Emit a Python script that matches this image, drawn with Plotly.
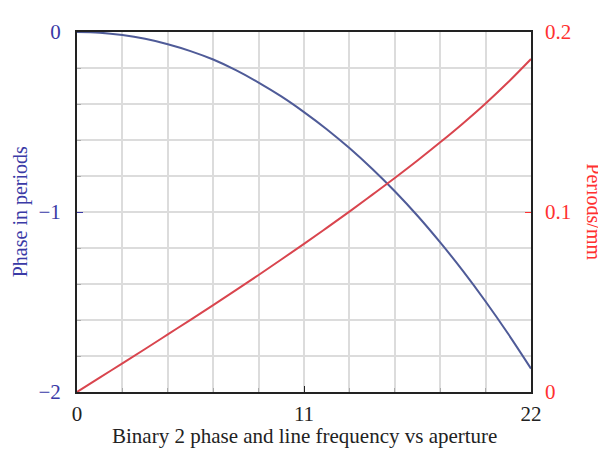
import plotly.graph_objects as go

aperture = [0, 1.1, 2.2, 3.3, 4.4, 5.5, 6.6, 7.7, 8.8, 9.9, 11,
            12.1, 13.2, 14.3, 15.4, 16.5, 17.6, 18.7, 19.8, 20.9, 22]
phase = [0, -0.004, -0.017, -0.038, -0.068, -0.106, -0.153, -0.212, -0.281, -0.358, -0.445,
         -0.540, -0.645, -0.760, -0.885, -1.021, -1.169, -1.327, -1.497, -1.678, -1.870]
freq = [0, 0.0080, 0.0159, 0.0239, 0.0320, 0.0401, 0.0483, 0.0566, 0.0650, 0.0736, 0.0823,
        0.0912, 0.1002, 0.1095, 0.1189, 0.1286, 0.1387, 0.1492, 0.1603, 0.1722, 0.1850]

x_ticks = [0, 11, 22]
y1_ticks = [-2, -1, 0]
y2_ticks = [0, 0.1, 0.2]

BLUE_TXT = "#3a3aa6"
RED_TXT = "#ff3030"
FONT = "Liberation Serif"
FS = 21

fig = go.Figure()
fig.add_trace(go.Scatter(x=aperture, y=phase, mode="lines", line=dict(color="#4f5b98", width=2, shape="spline"),
                         yaxis="y", showlegend=False))
fig.add_trace(go.Scatter(x=aperture, y=freq, mode="lines", line=dict(color="#d9454e", width=2, shape="spline"),
                         yaxis="y2", showlegend=False))

grid = "#dcdcdc"
fig.update_layout(
    width=598, height=446,
    margin=dict(l=69, r=75, t=13, b=62),
    paper_bgcolor="white", plot_bgcolor="white",
    font=dict(family=FONT, size=FS, color="#222"),
    xaxis=dict(range=[0, 22], tickvals=x_ticks, ticks="inside", ticklen=6, tickcolor="#222",
               showgrid=True, gridcolor=grid, gridwidth=1.5, zeroline=False,
               showline=True, linecolor="#222", linewidth=2, mirror=True,
               minor=dict(tick0=0, dtick=2.2, showgrid=True, gridcolor=grid, gridwidth=1.5,
                          ticks="inside", ticklen=4, tickcolor="#aaa"),
               tickfont=dict(family=FONT, size=FS, color="#222"), ticklabelstandoff=2),
    yaxis=dict(range=[-2, 0], tickvals=y1_ticks, ticks="inside", ticklen=6, tickcolor="#3a3aa6",
               showgrid=True, gridcolor=grid, gridwidth=1.5, zeroline=False,
               showline=True, linecolor="#222", linewidth=2, mirror=True,
               minor=dict(tick0=0, dtick=0.2, showgrid=True, gridcolor=grid, gridwidth=1.5,
                          ticks="inside", ticklen=4, tickcolor="#aaa"),
               tickfont=dict(family=FONT, size=FS, color=BLUE_TXT), ticklabelstandoff=10),
    yaxis2=dict(range=[0, 0.2], tickvals=y2_ticks, ticktext=["0", "0.1", "0.2"], overlaying="y", side="right",
                ticks="inside", ticklen=6, tickcolor=RED_TXT, showgrid=False, zeroline=False,
                showline=False, tickfont=dict(family=FONT, size=FS, color=RED_TXT), ticklabelstandoff=13),
    annotations=[
        dict(text="Phase in periods", xref="paper", yref="paper", x=-0.125, y=0.5, textangle=-90,
             showarrow=False, xanchor="center", yanchor="middle", font=dict(family=FONT, size=20, color=BLUE_TXT)),
        dict(text="Periods/mm", xref="paper", yref="paper", x=1.138, y=0.5, textangle=90,
             showarrow=False, xanchor="center", yanchor="middle", font=dict(family=FONT, size=20, color=RED_TXT)),
        dict(text="Binary 2 phase and line frequency vs aperture", xref="paper", yref="paper", x=0.5, y=-0.123,
             showarrow=False, xanchor="center", yanchor="middle", font=dict(family=FONT, size=FS, color="#222")),
    ],
)

fig.write_html("out.html")
